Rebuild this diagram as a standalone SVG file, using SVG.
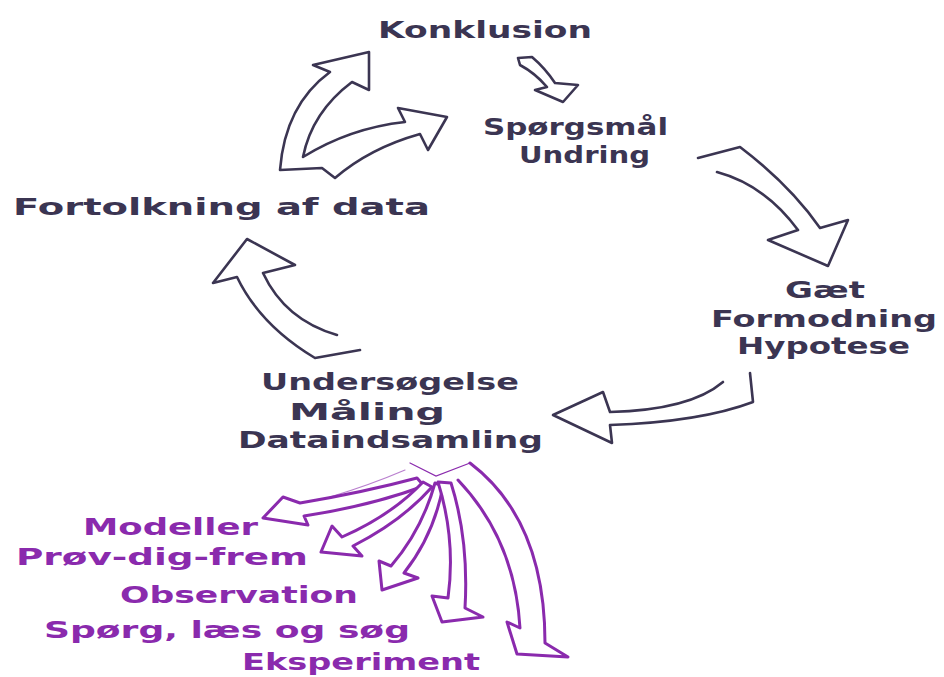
<svg xmlns="http://www.w3.org/2000/svg" width="944" height="677" viewBox="0 0 944 677">
<style>
.t{font-family:"DejaVu Sans","Liberation Sans",sans-serif;font-weight:bold;font-size:23px;fill:#3b3552}
.p{fill:#8a2aad}
.a{fill:#fff;stroke:#3b3552;stroke-width:2.6;stroke-linejoin:round;stroke-linecap:round}
.pa{fill:#fff;stroke:#8a2aad;stroke-width:3;stroke-linejoin:round;stroke-linecap:round}
.thin{fill:none;stroke:#8a2aad;stroke-width:1.2;stroke-linecap:round}
</style>
<rect width="944" height="677" fill="#fff"/>
<g id="connectors">
  <path class="a" d="M518,58 L532,57 Q545,68 555,83 L578,85 L563,102 L535,90 L547,87 Q535,73 520,65 Z"/>
  <path class="a" d="M698,158 L740,147 Q790,185 820,228 L848,220 L828,266 L768,240 L798,230 Q765,185 717,172"/>
  <path class="a" d="M750,373 L753,402 Q700,422 610,425 L612,443 L553,415 L603,392 L610,412 Q690,410 723,382"/>
  <path class="a" d="M360,350 L315,358 Q260,325 237,277 L213,283 L247,239 L295,265 L263,273 Q285,320 337,335"/>
  <path class="a" d="M280,170 Q285,105 330,72 L313,65 L369,52 L369,90 L352,82 Q312,112 303,157 Q350,128 405,122 L398,108 L447,117 L428,150 L420,134 Q370,148 335,178 L322,168 Z"/>
  <path class="pa" d="M417,478 Q365,492 300,503 L283,497 L263,518 L308,525 L304,516 Q370,506 424,486 Z"/>
  <path class="pa" d="M423,482 Q392,515 342,537 L332,526 L321,552 L362,556 L353,546 Q402,521 432,487 Z"/>
  <path class="pa" d="M435,483 Q422,530 391,566 L379,561 L382,590 L418,578 L404,573 Q434,535 443,486 Z"/>
  <path class="pa" d="M438,482 Q456,540 448,598 L432,596 L442,622 L483,617 L465,608 Q469,540 451,483 Z"/>
  <path class="pa" d="M458,480 Q515,540 520,628 L507,622 L517,654 L568,657 L545,643 Q545,520 470,463"/>
  <path class="thin" d="M410,463 L436,476 L470,463"/>
  <path class="thin" d="M405,470 Q370,485 330,497" opacity="0.6"/>
</g>
<g id="konklusion"><text class="t" x="378" y="38" textLength="214" lengthAdjust="spacingAndGlyphs">Konklusion</text></g>
<g id="spoergsmaal">
  <text class="t" x="483" y="135" textLength="185" lengthAdjust="spacingAndGlyphs">Spørgsmål</text>
  <text class="t" x="519" y="163" textLength="131" lengthAdjust="spacingAndGlyphs">Undring</text>
</g>
<g id="fortolkning"><text class="t" x="13" y="215" textLength="417" lengthAdjust="spacingAndGlyphs">Fortolkning af data</text></g>
<g id="hypotese">
  <text class="t" x="785" y="298" textLength="80" lengthAdjust="spacingAndGlyphs">Gæt</text>
  <text class="t" x="711" y="327" textLength="226" lengthAdjust="spacingAndGlyphs">Formodning</text>
  <text class="t" x="737" y="354" textLength="173" lengthAdjust="spacingAndGlyphs">Hypotese</text>
</g>
<g id="undersoegelse">
  <text class="t" x="261" y="390" textLength="258" lengthAdjust="spacingAndGlyphs">Undersøgelse</text>
  <text class="t" x="289" y="420" textLength="156" lengthAdjust="spacingAndGlyphs">Måling</text>
  <text class="t" x="238" y="448" textLength="305" lengthAdjust="spacingAndGlyphs">Dataindsamling</text>
</g>
<g id="metoder">
  <text class="t p" x="83" y="535" textLength="175" lengthAdjust="spacingAndGlyphs">Modeller</text>
  <text class="t p" x="16" y="565" textLength="292" lengthAdjust="spacingAndGlyphs">Prøv-dig-frem</text>
  <text class="t p" x="120" y="603" textLength="238" lengthAdjust="spacingAndGlyphs">Observation</text>
  <text class="t p" x="44" y="638" textLength="366" lengthAdjust="spacingAndGlyphs">Spørg, læs og søg</text>
  <text class="t p" x="242" y="670" textLength="238" lengthAdjust="spacingAndGlyphs">Eksperiment</text>
</g>
</svg>
